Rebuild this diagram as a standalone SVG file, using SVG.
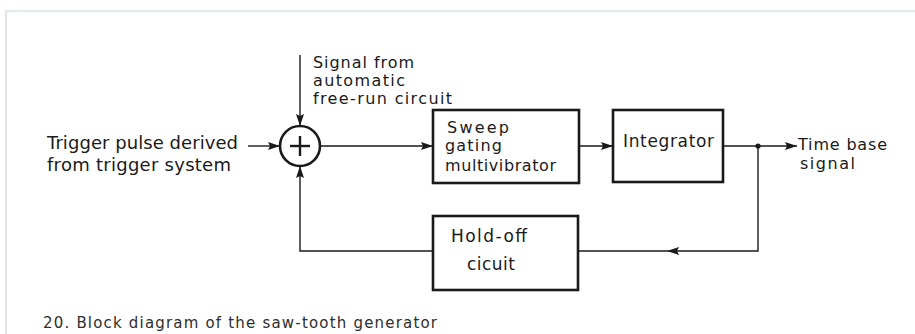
<svg xmlns="http://www.w3.org/2000/svg" width="915" height="334" viewBox="0 0 915 334">
  <style>
    .box { fill: #ffffff; stroke: #1a1a1a; stroke-width: 2.6; }
    .wire { fill: none; stroke: #1a1a1a; stroke-width: 1.4; }
    .lbl { font-family: "DejaVu Sans", "Liberation Sans", sans-serif; fill: #1a1a1a; }
    .cap { font-family: "DejaVu Sans", "Liberation Sans", sans-serif; fill: #2e2e2e; font-size: 15px; }
  </style>
  <defs>
    <marker id="arr" markerUnits="userSpaceOnUse" markerWidth="13" markerHeight="9" refX="12" refY="4" orient="auto">
      <path d="M0,0 L12,4 L0,8 L2,4 z" fill="#1a1a1a"/>
    </marker>
  </defs>
  <rect width="915" height="334" fill="#ffffff"/>
  <g id="frame">
    <line x1="6" y1="11" x2="915" y2="11" stroke="#d4e8da" stroke-width="1.5"/>
    <line x1="6" y1="11" x2="6" y2="334" stroke="#d6dcd8" stroke-width="1.5"/>
  </g>

  <g id="connectors">
    <line class="wire" x1="248" y1="146" x2="280" y2="146" marker-end="url(#arr)"/>
    <line class="wire" x1="300" y1="55" x2="300" y2="126" marker-end="url(#arr)"/>
    <line class="wire" x1="320" y1="146" x2="433" y2="146" marker-end="url(#arr)"/>
    <line class="wire" x1="579" y1="146" x2="613" y2="146" marker-end="url(#arr)"/>
    <line class="wire" x1="723" y1="146" x2="797" y2="146" marker-end="url(#arr)"/>
    <circle cx="758" cy="146" r="2.6" fill="#1a1a1a"/>
    <path class="wire" d="M758,146 V251 H667" marker-end="url(#arr)"/>
    <line class="wire" x1="667" y1="251" x2="578" y2="251"/>
    <path class="wire" d="M433,251 H300 V166" marker-end="url(#arr)"/>
  </g>

  <g id="input-label">
    <text class="lbl" x="47" y="149" font-size="18" textLength="191" lengthAdjust="spacing">Trigger pulse derived</text>
    <text class="lbl" x="47" y="171" font-size="18" textLength="184" lengthAdjust="spacing">from trigger system</text>
  </g>

  <g id="freerun-label">
    <text class="lbl" x="313" y="68" font-size="16" textLength="101" lengthAdjust="spacing">Signal from</text>
    <text class="lbl" x="313" y="86" font-size="16" textLength="92" lengthAdjust="spacing">automatic</text>
    <text class="lbl" x="313" y="104" font-size="16" textLength="139" lengthAdjust="spacing">free-run circuit</text>
  </g>

  <g id="summer">
    <circle cx="300" cy="146" r="20" fill="#ffffff" stroke="#1a1a1a" stroke-width="2.6"/>
    <line x1="290" y1="146" x2="310" y2="146" stroke="#1a1a1a" stroke-width="2.4"/>
    <line x1="300" y1="136" x2="300" y2="156" stroke="#1a1a1a" stroke-width="2.4"/>
  </g>

  <g id="sweep">
    <rect class="box" x="433" y="110" width="146" height="73"/>
    <text class="lbl" x="447" y="133" font-size="16" textLength="62" lengthAdjust="spacing">Sweep</text>
    <text class="lbl" x="445" y="151" font-size="16" textLength="57" lengthAdjust="spacing">gating</text>
    <text class="lbl" x="445" y="171" font-size="16" textLength="111" lengthAdjust="spacing">multivibrator</text>
  </g>

  <g id="integrator">
    <rect class="box" x="613" y="110" width="110" height="72"/>
    <text class="lbl" x="623" y="147" font-size="17" textLength="91" lengthAdjust="spacing">Integrator</text>
  </g>

  <g id="holdoff">
    <rect class="box" x="433" y="216" width="145" height="74"/>
    <text class="lbl" x="451" y="242" font-size="17" textLength="76" lengthAdjust="spacing">Hold-off</text>
    <text class="lbl" x="467" y="270" font-size="17" textLength="48" lengthAdjust="spacing">cicuit</text>
  </g>

  <g id="output-label">
    <text class="lbl" x="798" y="150" font-size="16" textLength="89" lengthAdjust="spacing">Time base</text>
    <text class="lbl" x="800" y="169" font-size="16" textLength="55" lengthAdjust="spacing">signal</text>
  </g>

  <g id="caption">
    <text class="cap" x="43" y="328" textLength="394" lengthAdjust="spacing">20. Block diagram of the saw-tooth generator</text>
  </g>
</svg>
